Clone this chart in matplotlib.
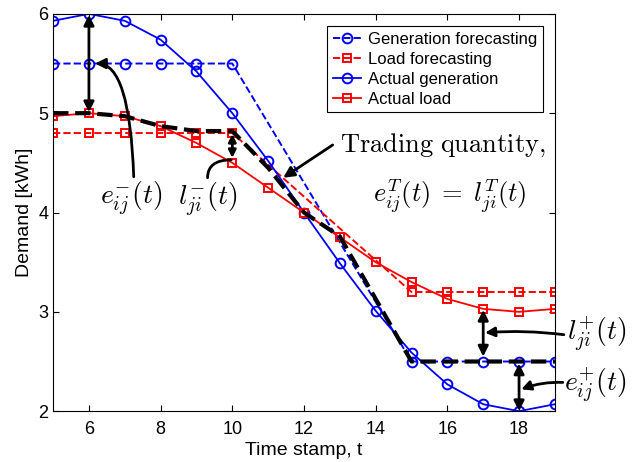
import matplotlib
matplotlib.use('Agg')
import matplotlib.pyplot as plt
import numpy as np

plt.rcParams['font.family'] = ['Liberation Sans', 'DejaVu Sans']
plt.rcParams['mathtext.fontset'] = 'cm'

t = np.arange(5, 20)
# forecasts are flat before 10 and after 15, straight line between
t_fc = [5, 6, 7, 8, 9, 10, 15, 16, 17, 18, 19]
gen_fc = [5.5, 5.5, 5.5, 5.5, 5.5, 5.5, 2.5, 2.5, 2.5, 2.5, 2.5]
load_fc = [4.8, 4.8, 4.8, 4.8, 4.8, 4.8, 3.2, 3.2, 3.2, 3.2, 3.2]
gen_act = [5.93, 6.0, 5.93, 5.74, 5.42, 5.0, 4.52, 4.0, 3.49, 3.01, 2.59, 2.27, 2.07, 2.0, 2.07]
load_act = [4.97, 5.0, 4.97, 4.87, 4.7, 4.5, 4.25, 4.0, 3.75, 3.5, 3.3, 3.13, 3.03, 3.0, 3.03]
trade = [5.0, 5.0, 4.97, 4.87, 4.82, 4.82, 4.45, 4.0, 3.76, 3.13, 2.5, 2.5, 2.5, 2.5, 2.5]

fig = plt.figure(figsize=(6.32, 4.62), dpi=100)
ax = fig.add_axes([0.084, 0.11, 0.794, 0.86])

ax.plot(t_fc, gen_fc, 'b--o', lw=1.4, ms=7, mfc='none', mew=1.4, label='Generation forecasting')
ax.plot(t_fc, load_fc, 'r--s', lw=1.4, ms=5.5, mfc='none', mew=1.4, label='Load forecasting')
ax.plot(t, gen_act, 'b-o', lw=1.3, ms=7, mfc='none', mew=1.4, label='Actual generation')
ax.plot(t, load_act, 'r-s', lw=1.3, ms=5.5, mfc='none', mew=1.4, label='Actual load')
ax.plot(t, trade, 'k--', lw=3, zorder=5)

ax.set_xlim(5, 19)
ax.set_ylim(2, 6)
ax.set_xticks([6, 8, 10, 12, 14, 16, 18])
ax.set_yticks([2, 3, 4, 5, 6])
ax.tick_params(direction='in', top=True, right=True, labelsize=13, length=4)
ax.tick_params(axis='x', pad=7)
ax.set_xlabel('Time stamp, t', fontsize=14, labelpad=3)
ax.set_ylabel('Demand [kWh]', fontsize=14, labelpad=4)

leg = ax.legend(loc='upper right', bbox_to_anchor=(0.976, 0.97), borderaxespad=0,
                fontsize=12, fancybox=False, edgecolor='black', framealpha=1,
                handlelength=1.7, handletextpad=0.4, borderpad=0.35, labelspacing=0.3)
leg.get_frame().set_linewidth(0.8)

# double headed gaps
dbl = dict(arrowstyle='<|-|>', color='k', lw=2, mutation_scale=15, shrinkA=0, shrinkB=0)
ax.annotate('', xy=(6, 5.01), xytext=(6, 5.99), arrowprops=dbl, zorder=6)
ax.annotate('', xy=(10, 4.55), xytext=(10, 4.79), arrowprops=dict(dbl, mutation_scale=11), zorder=6)
ax.annotate('', xy=(17, 2.55), xytext=(17, 3.02), arrowprops=dbl, zorder=6)
ax.annotate('', xy=(18, 2.0), xytext=(18, 2.48), arrowprops=dbl, zorder=6)

# pointers
ax.annotate('', xy=(6.17, 5.5), xytext=(7.25, 4.36),
            arrowprops=dict(arrowstyle='-|>', color='k', lw=2, mutation_scale=15, shrinkA=0, shrinkB=0,
                            connectionstyle='angle3,angleA=92,angleB=0'), zorder=6)
ax.annotate('', xy=(9.97, 4.53), xytext=(9.31, 4.35),
            arrowprops=dict(arrowstyle='-', color='k', lw=2, shrinkA=0, shrinkB=0,
                            connectionstyle='angle3,angleA=90,angleB=0'), zorder=6)
ax.annotate('', xy=(11.42, 4.35), xytext=(12.8, 4.68),
            arrowprops=dict(arrowstyle='-|>', color='k', lw=2, mutation_scale=16, shrinkA=0, shrinkB=0),
            zorder=6)
ax.annotate('', xy=(17.05, 2.79), xytext=(19.25, 2.77), annotation_clip=False,
            arrowprops=dict(arrowstyle='-|>', color='k', lw=2, mutation_scale=14, shrinkA=0, shrinkB=0,
                            connectionstyle='arc3,rad=0.05'), zorder=6)
ax.annotate('', xy=(18.06, 2.22), xytext=(19.22, 2.29), annotation_clip=False,
            arrowprops=dict(arrowstyle='-|>', color='k', lw=2, mutation_scale=14, shrinkA=0, shrinkB=0,
                            connectionstyle='arc3,rad=0.1'), zorder=6)

fs = 19
ax.text(7.19, 4.14, r'$e_{ij}^{-}(t)$', fontsize=20, ha='center', va='center')
ax.text(9.31, 4.13, r'$l_{ji}^{-}(t)$', fontsize=20, ha='center', va='center')
ax.text(13.0, 4.68, r'$\mathrm{Trading\ quantity,}$', fontsize=fs, ha='left', va='center')
ax.text(16.06, 4.17, r'$e_{ij}^{T}(t)\;=\;l_{ji}^{T}(t)$', fontsize=fs, ha='center', va='center')
ax.text(19.33, 2.77, r'$l_{ji}^{+}(t)$', fontsize=20, ha='left', va='center', clip_on=False)
ax.text(19.25, 2.26, r'$e_{ij}^{+}(t)$', fontsize=20, ha='left', va='center', clip_on=False)

fig.savefig('out.png', dpi=100)
